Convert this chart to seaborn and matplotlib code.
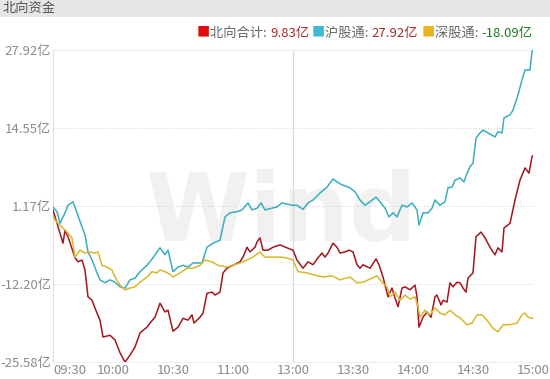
import numpy as np
import pandas as pd
import matplotlib
matplotlib.use("Agg")
import matplotlib.pyplot as plt
import seaborn as sns
from matplotlib.patches import Rectangle

# minutes since 09:30 (trading minutes, lunch break removed) and flows in 亿
north_min = [0, 2, 5, 6, 7.5, 11, 12.5, 14.5, 16, 17.5,
             19.5, 22, 23.5, 25, 28.5, 31, 33.5, 36, 38.5, 41,
             43.5, 47, 48.5, 51, 53.5, 56, 57.5, 60, 62.5, 65,
             67.5, 69.5, 70.5, 73.5, 75, 77, 79.5, 81, 83.5, 85,
             87, 90, 93.5, 95, 97, 98.5, 101, 102, 103.5, 105,
             107.5, 110, 113.5, 117, 120, 122, 125, 127.5, 130, 132.5,
             134.5, 136, 137.5, 140, 142, 143.5, 146, 148, 150, 152,
             153.5, 155, 158.5, 161.5, 163, 165, 167.5, 169.5, 171, 172.5,
             174.5, 176, 178.5, 181, 182, 183, 185, 187, 189, 191,
             192, 194, 195, 197, 198.5, 200, 202, 203.5, 205, 206.5,
             207.5, 210, 211.5, 214, 216, 218.5, 221, 222.5, 224.5, 225.5,
             228.5, 231, 233.5, 236, 238, 239.5, 240]
north_val = [0.5, -1.8, -5.2, -3.0, -4.1, -7.7, -8.4, -8.1, -9.8, -14.4,
             -15.0, -17.2, -18.4, -21.3, -21.0, -21.8, -24.0, -25.6, -24.4, -23.0,
             -20.6, -19.6, -18.9, -17.9, -15.5, -17.0, -16.7, -20.3, -19.6, -18.1,
             -18.4, -17.5, -18.9, -17.9, -17.2, -13.8, -13.6, -14.1, -13.6, -10.3,
             -9.5, -9.0, -8.4, -7.6, -5.9, -6.7, -5.9, -5.0, -4.3, -6.4,
             -6.4, -5.9, -5.5, -6.0, -6.4, -8.1, -9.5, -8.4, -8.9, -7.7,
             -6.9, -7.6, -6.9, -5.2, -5.9, -6.9, -6.7, -6.4, -6.7, -8.9,
             -9.5, -8.9, -9.5, -7.9, -8.9, -11.0, -14.4, -12.9, -14.6, -16.1,
             -12.9, -12.7, -13.2, -12.4, -14.4, -19.6, -17.9, -17.0, -17.9, -14.4,
             -14.1, -15.8, -15.0, -15.3, -12.0, -12.7, -11.9, -12.0, -12.9, -13.6,
             -11.2, -10.3, -4.1, -3.3, -4.3, -5.9, -7.2, -6.0, -6.7, -2.6,
             -1.8, 2.2, 5.6, 7.7, 6.8, 9.6, 9.83]

sh_min = [0, 2, 3.5, 6, 7.5, 10, 12, 14.5, 16, 17.5,
          19.5, 22, 23.5, 26, 28.5, 31, 33.5, 36, 38.5, 41,
          43.5, 47, 50, 53.5, 56, 57.5, 60, 62.5, 65, 67.5,
          70, 74.5, 77, 80, 83.5, 86, 88.5, 92, 94.5, 97.5,
          99.5, 102, 104, 106, 109.5, 112, 114.5, 117, 120, 122,
          125, 127.5, 130, 133.5, 137, 140, 142, 144.5, 148.5, 151,
          153.5, 156, 158.5, 161.5, 163.5, 166, 168, 170, 172, 174.5,
          177, 179.5, 182, 183, 185, 187.5, 189.5, 191, 193.5, 196,
          197.5, 199.5, 201, 203.5, 205.5, 207, 208.5, 210, 211.5, 213.5,
          215, 217.5, 221, 222.5, 224.5, 225.5, 228.5, 230, 232.5, 234.5,
          236, 238.5, 239.5, 240]
sh_val = [1.0, 0.2, -1.8, 0.0, 1.3, 1.9, 0.0, -2.4, -3.8, -6.7,
          -8.1, -10.3, -11.5, -12.0, -11.5, -11.9, -12.7, -12.9, -11.5, -11.2,
          -10.1, -9.0, -7.7, -6.0, -7.2, -6.4, -10.1, -9.3, -9.0, -9.3,
          -8.6, -8.6, -5.9, -5.2, -4.7, -0.7, 0.0, 0.2, 0.5, 1.7,
          0.5, 0.8, 1.7, 0.5, 0.8, 1.0, 1.7, 1.5, 1.3, 1.3,
          0.6, 1.7, 2.2, 3.4, 4.4, 5.8, 5.3, 4.8, 4.3, 3.6,
          2.2, 1.3, 1.9, 2.7, 1.9, 0.8, -0.7, 0.0, -0.7, 1.3,
          1.0, 1.7, 0.5, -2.1, 0.0, 0.0, 0.8, 2.2, 1.3, 1.9,
          4.3, 4.4, 5.6, 6.0, 5.3, 6.8, 7.9, 8.5, 12.8, 13.7,
          14.2, 13.7, 13.0, 13.9, 13.7, 16.3, 16.8, 17.6, 20.2, 22.8,
          24.5, 24.5, 27.6, 27.92]

sz_min = [0, 1, 2.5, 5, 7.5, 9.5, 11, 13.5, 16, 18.5,
          21, 22.5, 24.5, 27, 29.5, 31, 33.5, 36, 38.5, 41,
          43.5, 47, 49.5, 52, 53.5, 56, 58.5, 60, 63.5, 67,
          70, 73.5, 76, 79.5, 82.5, 87, 90, 93.5, 97, 100,
          103.5, 106, 110, 114.5, 118.5, 120, 122.5, 127, 131, 135,
          139.5, 143.5, 148.5, 152, 155, 159.5, 162, 164.5, 167, 168.5,
          171, 173.5, 176, 178.5, 181, 182.5, 183.5, 186, 188.5, 191,
          193.5, 196, 198.5, 201, 203.5, 207, 209.5, 212, 214.5, 217,
          220, 222.5, 225, 228.5, 232, 234.5, 236, 237.5, 240]
sz_val = [-0.5, -1.2, -1.8, -2.6, -3.5, -4.3, -7.6, -6.4, -6.9, -6.7,
          -6.9, -6.7, -9.0, -9.3, -9.8, -11.0, -12.4, -13.2, -12.9, -12.7,
          -11.9, -11.0, -10.1, -10.3, -9.8, -10.1, -10.5, -11.0, -10.3, -9.5,
          -9.5, -9.0, -8.1, -8.4, -9.0, -9.3, -9.0, -8.6, -8.1, -7.6,
          -6.7, -7.6, -7.6, -7.6, -7.9, -8.1, -10.1, -10.3, -10.7, -11.0,
          -10.8, -11.5, -11.0, -12.0, -11.9, -11.2, -10.8, -11.9, -12.7, -14.4,
          -13.6, -15.0, -14.1, -14.8, -14.4, -16.1, -17.9, -16.7, -17.5, -16.3,
          -17.2, -17.5, -16.7, -17.5, -18.0, -19.2, -18.9, -17.5, -17.5, -18.4,
          -19.8, -20.4, -19.2, -19.2, -18.9, -17.5, -17.2, -17.9, -18.09]

series_names = ["北向合计", "沪股通", "深股通"]
line_colors = ["#a3161f", "#3aaec0", "#d8b82c"]
legend_colors = ["#e00b0b", "#3fbad2", "#e8b51f"]
latest = ["9.83亿", "27.92亿", "-18.09亿"]
latest_colors = ["#a82a2a", "#a82a2a", "#1f7a1f"]

ytick_vals = [27.92, 14.55, 1.17, -12.20, -25.58]
xtick_pos = [0, 30, 60, 90, 120, 150, 180, 210, 240]
xtick_labels = ["09:30", "10:00", "10:30", "11:00", "13:00", "13:30", "14:00", "14:30", "15:00"]

df = pd.concat([
    pd.DataFrame({"minute": north_min, "value": north_val, "series": "北向合计"}),
    pd.DataFrame({"minute": sh_min, "value": sh_val, "series": "沪股通"}),
    pd.DataFrame({"minute": sz_min, "value": sz_val, "series": "深股通"}),
])

sns.set_theme(style="white")
plt.rcParams["font.family"] = ["Noto Sans CJK SC", "DejaVu Sans"]

W, H = 550, 379
fig = plt.figure(figsize=(W / 100, H / 100), dpi=100)
ax = fig.add_axes([53 / W, 1 - 362 / H, 480 / W, 312 / H])

# grey title band
fig.patches.append(Rectangle((0, 1 - 17 / H), 1, 17 / H, transform=fig.transFigure,
                             facecolor="#e6e6e6", edgecolor="none", zorder=0))
fig.text(3 / W, 1 - 8.5 / H, "北向资金", fontsize=9.5, color="#555555", va="center", ha="left")

# faint watermark
ax.text(0.475, 0.47, "Wind", transform=ax.transAxes, fontsize=68, fontweight="bold",
        family="DejaVu Sans", color="#f1f1f1", ha="center", va="center", zorder=0)

ax.axvline(120, color="#d9d9d9", lw=0.8, zorder=1)
for v in ytick_vals[1:-1]:
    ax.axhline(v, color="#cfcfcf", lw=0.7, ls=(0, (1, 2)), zorder=1)
ax.axhline(ytick_vals[0], color="#ececec", lw=0.7, zorder=1)

sns.lineplot(data=df, x="minute", y="value", hue="series", hue_order=series_names,
             palette=line_colors, estimator=None, sort=True, lw=1.1, legend=False,
             ax=ax, zorder=3)

ax.set_xlim(0, 240)
ax.set_ylim(-25.58, 27.92)
ax.set_xlabel("")
ax.set_ylabel("")
ax.set_yticks(ytick_vals)
ax.set_yticklabels([f"{v:.2f}亿" for v in ytick_vals])
ax.set_xticks(xtick_pos)
ax.set_xticklabels(xtick_labels)
ax.get_xticklabels()[0].set_ha("left")
ax.tick_params(axis="both", length=0, labelsize=9.5, labelcolor="#8a8a8a")
ax.tick_params(axis="y", pad=1.5)
ax.tick_params(axis="x", pad=1.5)
ax.grid(False)
for s in ["top", "right"]:
    ax.spines[s].set_visible(False)
ax.spines["left"].set_color("#e0e0e0")
ax.spines["left"].set_linewidth(0.8)
ax.spines["bottom"].set_color("#f0f0f0")
ax.spines["bottom"].set_linewidth(0.8)

# legend row with latest values, chained left to right
renderer = fig.canvas.get_renderer()
x = 197
y = 1 - 33 / H
for name, sq, val, vc in zip(series_names, legend_colors, latest, latest_colors):
    for txt, col in [("■", sq), (name + ": ", "#666666"), (val, vc)]:
        t = fig.text(x / W, y, txt, fontsize=9.5, color=col, va="center", ha="left")
        x += t.get_window_extent(renderer).width
    x += 3

fig.savefig("out.png", dpi=100, facecolor="white")
